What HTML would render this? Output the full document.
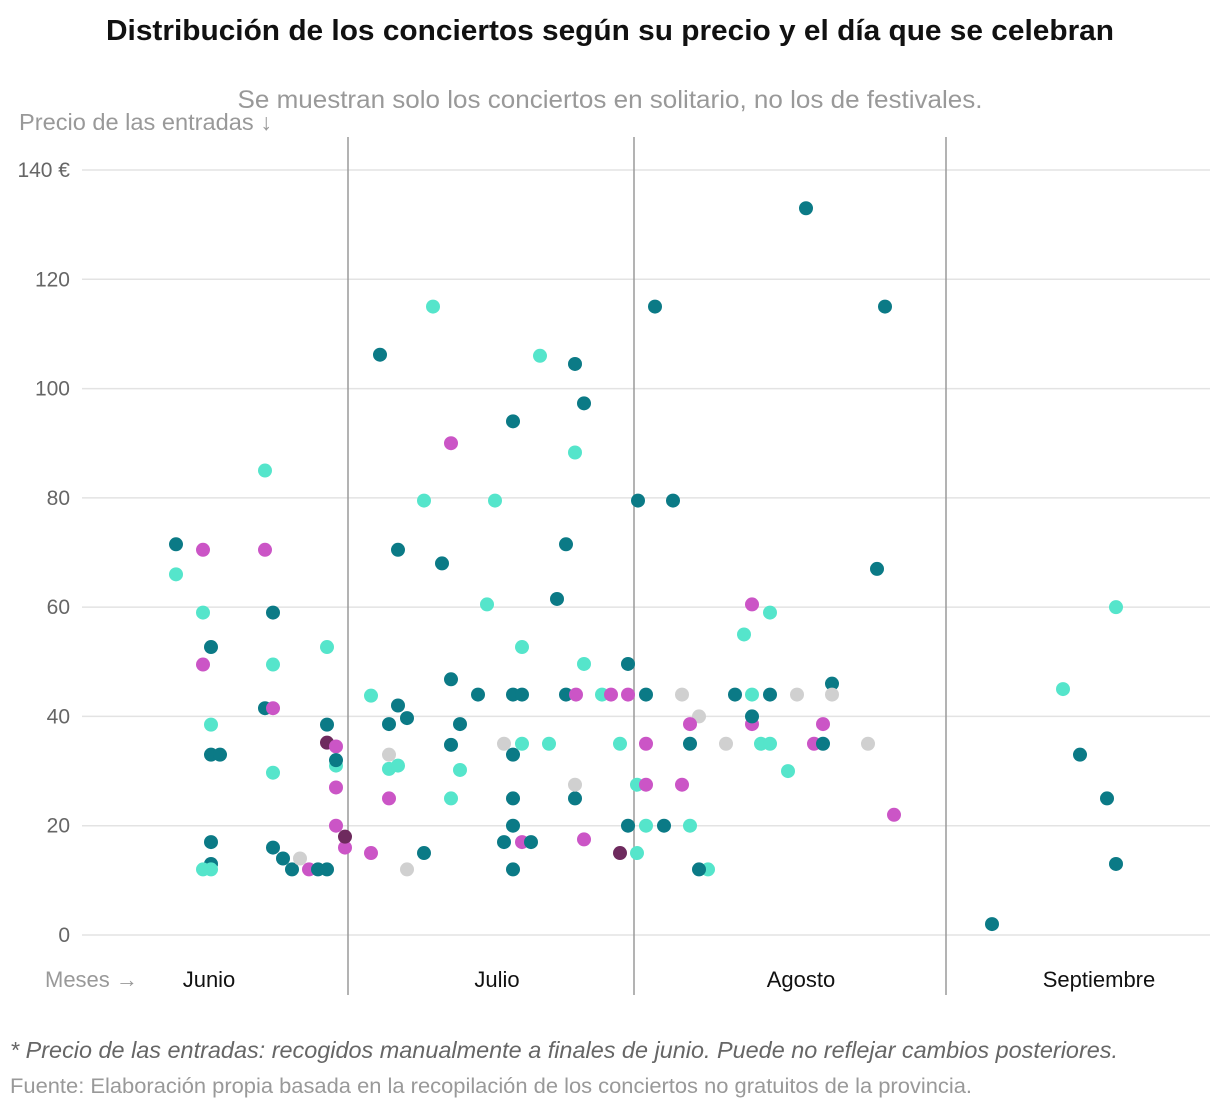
<!DOCTYPE html>
<html><head><meta charset="utf-8"><style>
body{margin:0;background:#fff;font-family:"Liberation Sans",sans-serif;}
svg{display:block}
</style></head><body>
<svg id="chart" width="1220" height="1112" xmlns="http://www.w3.org/2000/svg">
<text x="610" y="40" text-anchor="middle" font-size="29" font-weight="bold" fill="#111" textLength="1008" lengthAdjust="spacingAndGlyphs">Distribución de los conciertos según su precio y el día que se celebran</text>
<text x="610" y="108" text-anchor="middle" font-size="25" fill="#999" textLength="745" lengthAdjust="spacingAndGlyphs">Se muestran solo los conciertos en solitario, no los de festivales.</text>
<text x="19" y="130" font-size="23" fill="#999" textLength="253" lengthAdjust="spacingAndGlyphs">Precio de las entradas ↓</text>
<text x="45" y="987" font-size="22" fill="#999">Meses →</text>
<g id="grid"></g><g id="seps"></g><g id="months"></g><g id="points"></g>
<text x="10" y="1058" font-size="23" font-style="italic" fill="#666" textLength="1108" lengthAdjust="spacingAndGlyphs">* Precio de las entradas: recogidos manualmente a finales de junio. Puede no reflejar cambios posteriores.</text>
<text x="10" y="1093" font-size="21" fill="#999" textLength="962" lengthAdjust="spacingAndGlyphs">Fuente: Elaboración propia basada en la recopilación de los conciertos no gratuitos de la provincia.</text>
</svg>
<script>
const yTicks=[0,20,40,60,80,100,120,140];
const monthNames=["Junio","Julio","Agosto","Septiembre"];
const monthLabelDays=[10.9,39.7,70.1,99.9];
const monthStarts=[24.8,53.4,84.6];
// June
const days=[7.6,7.6,10.3,10.3,10.3,11.1,11.1,11.1,12,11.1,11.1,10.3,11.1,16.5,16.5,17.3,17.3,16.5,17.3,17.3,17.3,18.3,19.2,20,20.9,21.8,22.7,22.7,22.7,22.7,23.6,23.6,23.6,23.6,23.6,24.5,24.5,
// July
27.1,28,28.9,29.8,30.7,28.9,28.9,29.8,28.9,27.1,30.7,32.4,29.8,32.4,33.3,34.2,35.1,35.1,36,35.1,36,35.1,37.8,38.7,39.5,40.4,42.2,44.9,52,41.3,41.3,42.2,46.6,47.6,50.2,51.1,52.8,41.3,47.5,47.5,41.3,52.8,40.4,42.2,43.1,48.4,52,41.3,42.2,48.4,52.8,41.3,44,47.5,48.4,47.5,46.6,45.7,
// August
53.8,55.5,57.3,70.6,78.5,77.7,65.2,67,64.4,73.2,54.6,58.2,63.5,65.2,67,69.7,73.2,59.9,59,65.2,65.2,72.3,54.6,59,62.6,66.1,67,71.4,72.3,76.8,68.8,53.7,54.6,58.2,79.4,54.6,56.4,59,53.7,60.8,59.9,
// September
89.2,96.3,98,100.7,101.6,101.6];
const prices=[71.5,66,70.5,59,49.5,52.7,38.5,33,33,17,13,12,12,85,70.5,59,49.5,41.5,41.5,29.7,16,14,12,14,12,12,12,52.7,38.5,35.2,34.5,31,32,27,20,16,18,
43.8,106.2,38.6,42,39.7,33,30.4,31,25,15,12,15,70.5,79.5,115,68,90,46.8,38.6,34.8,30.2,25,44,60.5,79.5,35,35,35,35,33,44,44,44,44,44,44,44,25,25,27.5,20,20,17,17,17,17.5,15,12,52.7,49.6,49.6,94,106,104.5,97.3,88.3,71.5,61.5,
79.5,115,79.5,133,115,67,60.5,59,55,46,44,44,44,44,44,44,44,40,38.6,38.6,40,38.6,35,35,35,35,35,35,35,35,30,27.5,27.5,27.5,22,20,20,20,15,12,12,
2,45,33,25,60,13];
const cats=["T","C","M","C","M","T","C","T","T","T","T","C","C","C","M","T","C","T","M","C","T","T","T","G","M","T","T","C","T","P","M","C","T","M","M","M","P",
"C","T","T","T","T","G","C","C","M","M","G","T","T","C","C","T","M","T","T","T","C","C","T","C","C","G","C","C","C","T","T","T","T","M","C","M","M","T","T","G","T","T","T","M","T","M","P","T","C","C","T","T","C","T","T","C","T","T",
"T","T","T","T","T","T","M","C","C","T","T","G","T","C","T","G","G","G","M","M","T","M","M","T","G","C","C","M","T","G","C","C","M","M","M","C","T","C","C","C","T",
"T","C","T","T","C","T"];
const colors={T:"#0b7a86",C:"#55e5cb",M:"#cb55c6",G:"#d0d0d0",P:"#6e2a5e"};
const NS="http://www.w3.org/2000/svg";
const y=v=>935-v*(765/140);
const x=d=>100+d*10;
const grid=document.getElementById('grid');
yTicks.forEach(t=>{
 const l=document.createElementNS(NS,'line');
 l.setAttribute('x1',82);l.setAttribute('x2',1210);l.setAttribute('y1',y(t));l.setAttribute('y2',y(t));
 l.setAttribute('stroke','#e3e3e3');l.setAttribute('stroke-width','1.5');
 
 
 grid.appendChild(l);
 const tx=document.createElementNS(NS,'text');
 tx.setAttribute('x',70);tx.setAttribute('y',y(t)+7);tx.setAttribute('text-anchor','end');
 tx.setAttribute('font-size','21');tx.setAttribute('fill','#666');
 tx.textContent=t===140?'140 €':String(t);
 
 
 grid.appendChild(tx);
});
const seps=document.getElementById('seps');
monthStarts.forEach(d=>{
 const l=document.createElementNS(NS,'line');
 l.setAttribute('x1',x(d));l.setAttribute('x2',x(d));l.setAttribute('y1',137);l.setAttribute('y2',995);
 l.setAttribute('stroke','#9a9a9a');l.setAttribute('stroke-width','1.5');
 
 
 seps.appendChild(l);
});
const months=document.getElementById('months');
monthNames.forEach((m,i)=>{
 const tx=document.createElementNS(NS,'text');
 tx.setAttribute('x',x(monthLabelDays[i]));tx.setAttribute('y',987);tx.setAttribute('text-anchor','middle');
 tx.setAttribute('font-size','22');tx.setAttribute('fill','#111');
 tx.textContent=m;
 
 
 months.appendChild(tx);
});
const pts=document.getElementById('points');
const n=Math.min(days.length,prices.length,cats.length);
for(let i=0;i<n;i++){
 const c=document.createElementNS(NS,'circle');
 c.setAttribute('cx',x(days[i]));c.setAttribute('cy',y(prices[i]));c.setAttribute('r',7);
 c.setAttribute('fill',colors[cats[i]]);
 
 
 pts.appendChild(c);
}
</script>
</body></html>
